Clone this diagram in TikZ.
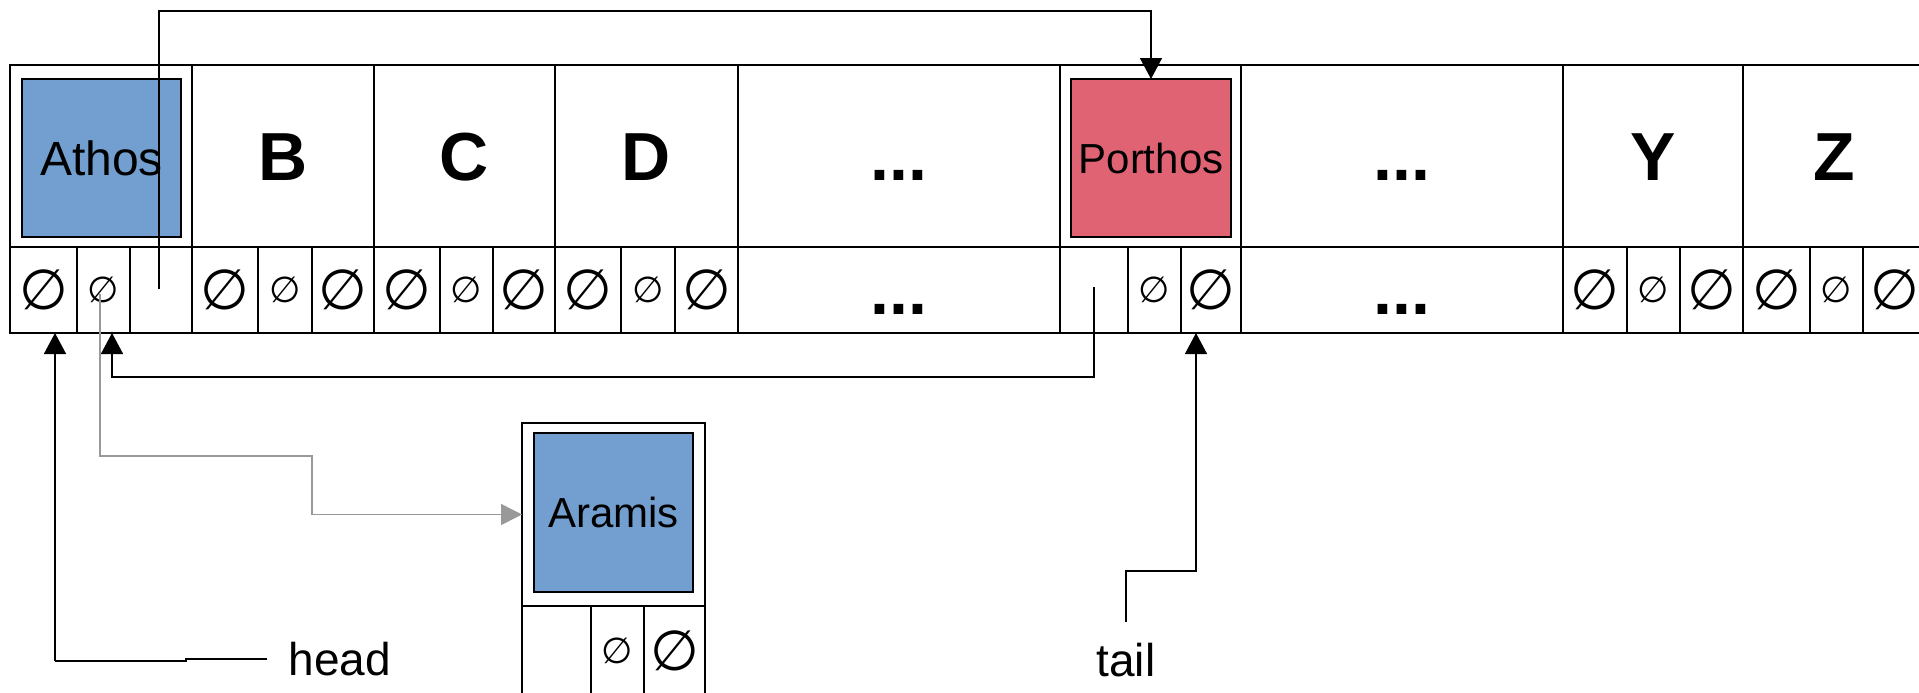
\documentclass[tikz,border=0pt]{standalone}
\usepackage{fontspec}
\setmainfont{Liberation Sans}
\newfontfamily\symfont{DejaVu Sans}
\usetikzlibrary{arrows.meta}
\definecolor{boxblue}{HTML}{729FCF}
\definecolor{boxred}{HTML}{E06374}
\definecolor{ptrgray}{HTML}{999999}
\newcommand\bigE{{\symfont\fontsize{28pt}{28pt}\selectfont ∅}}
\newcommand\smallE{{\symfont\fontsize{18pt}{18pt}\selectfont ∅}}
\newcommand\mkcell[7][]{%
  \node[cellbox,#1,minimum width={(#4-(#3))*0.5pt},minimum height={(#6-(#5))*0.5pt}] (#2) at ({(#3+#4)/2},{(#5+#6)/2}) {#7};}
\tikzset{
  cellbox/.style={draw, line width=0.75pt, inner sep=0pt, outer sep=0pt},
  toprow/.style={font=\fontsize{34pt}{34pt}\selectfont\bfseries, text height=24.3pt, text depth=0pt},
  dotrow/.style={font=\fontsize{34pt}{34pt}\selectfont\bfseries, text height=24.3pt, text depth=0pt},
  namebox/.style={draw, line width=0.75pt, inner sep=0pt, outer sep=0pt, text depth=0pt},
  ptr/.style={line width=0.75pt, -{Triangle[length=10.5pt,width=11pt]}},
  gptr/.style={line width=0.75pt, draw=ptrgray, -{Triangle[length=10.5pt,width=10.5pt,fill=ptrgray]}},
  plain/.style={line width=0.75pt},
  lbl/.style={font=\fontsize{23pt}{27pt}\selectfont, inner sep=0pt, anchor=base}
}
\begin{document}
\begin{tikzpicture}[x=0.5pt,y=-0.5pt]
\useasboundingbox (0,0) rectangle (1919,692);
% top row
\mkcell[toprow]{tA}{10}{192}{65}{247}{}
\mkcell[toprow]{tB}{192}{374}{65}{247}{B}
\mkcell[toprow]{tC}{374}{555}{65}{247}{C}
\mkcell[toprow]{tD}{555}{738}{65}{247}{D}
\mkcell[toprow]{tE1}{738}{1060}{65}{247}{...}
\mkcell[toprow]{tP}{1060}{1241}{65}{247}{}
\mkcell[toprow]{tE2}{1241}{1563}{65}{247}{...}
\mkcell[toprow]{tY}{1563}{1743}{65}{247}{Y}
\mkcell[toprow]{tZ}{1743}{1926}{65}{247}{Z}
% bottom row
\mkcell{a1}{10}{77}{247}{333}{\bigE}
\mkcell{a2}{77}{130}{247}{333}{\smallE}
\mkcell{a3}{130}{192}{247}{333}{}
\mkcell{b1}{192}{258}{247}{333}{\bigE}
\mkcell{b2}{258}{312}{247}{333}{\smallE}
\mkcell{b3}{312}{374}{247}{333}{\bigE}
\mkcell{c1}{374}{440}{247}{333}{\bigE}
\mkcell{c2}{440}{493}{247}{333}{\smallE}
\mkcell{c3}{493}{555}{247}{333}{\bigE}
\mkcell{d1}{555}{621}{247}{333}{\bigE}
\mkcell{d2}{621}{675}{247}{333}{\smallE}
\mkcell{d3}{675}{738}{247}{333}{\bigE}
\mkcell[dotrow]{e1}{738}{1060}{247}{333}{...}
\mkcell{p1}{1060}{1128}{247}{333}{}
\mkcell{p2}{1128}{1181}{247}{333}{\smallE}
\mkcell{p3}{1181}{1241}{247}{333}{\bigE}
\mkcell[dotrow]{e2}{1241}{1563}{247}{333}{...}
\mkcell{y1}{1563}{1627}{247}{333}{\bigE}
\mkcell{y2}{1627}{1680}{247}{333}{\smallE}
\mkcell{y3}{1680}{1743}{247}{333}{\bigE}
\mkcell{z1}{1743}{1810}{247}{333}{\bigE}
\mkcell{z2}{1810}{1863}{247}{333}{\smallE}
\mkcell{z3}{1863}{1926}{247}{333}{\bigE}
% Aramis record
\mkcell{rT}{522}{705}{423}{606}{}
\mkcell{r1}{522}{591}{606}{696}{}
\mkcell{r2}{591}{644}{606}{696}{\smallE}
\mkcell{r3}{644}{705}{606}{696}{\bigE}
% name boxes
\node[namebox, fill=boxblue, minimum width=79.5pt, minimum height=79pt,
      font=\fontsize{24pt}{28pt}\selectfont, text height=17.2pt] (athos) at (101.5,158) {Athos};
\node[namebox, fill=boxred, minimum width=80pt, minimum height=79pt,
      font=\fontsize{21pt}{25pt}\selectfont, text height=15pt] (porthos) at (1151,158) {Porthos};
\node[namebox, fill=boxblue, minimum width=79.5pt, minimum height=79.5pt,
      font=\fontsize{21pt}{25pt}\selectfont, text height=15pt] (aramis) at (613.5,512.5) {Aramis};
% labels
\node[lbl] (head) at (340,675) {head};
\node[lbl] (tail) at (1126,676) {tail};
% coordinates
\coordinate (topy) at (0,11);
\coordinate (a3s) at (159,289);
\coordinate (p1s) at (1094,287);
\coordinate (backy) at (0,377);
\coordinate (a2in) at (112,333);
\coordinate (gs) at (100,294);
\coordinate (headin) at (55,333);
\coordinate (tailin) at (1196,333);
\coordinate (headend) at (267,659);
\coordinate (tailend) at (1126,622);
% connectors
\draw[ptr] (a3s) -- (a3s |- topy) -| (porthos.north);
\draw[ptr] (p1s) -- (p1s |- backy) -| (a2in);
\draw[gptr] (gs) -- (100,456) -- (312,456) -- (312,514.5) -- (rT.west);
\draw[plain] (headend) -- (186,659) -- (186,661) -- (55,661);
\draw[ptr] (55,661) -- (headin);
\draw[ptr] (tailend) -- (1126,571) -- (1196,571) -- (tailin);
\end{tikzpicture}
\end{document}
